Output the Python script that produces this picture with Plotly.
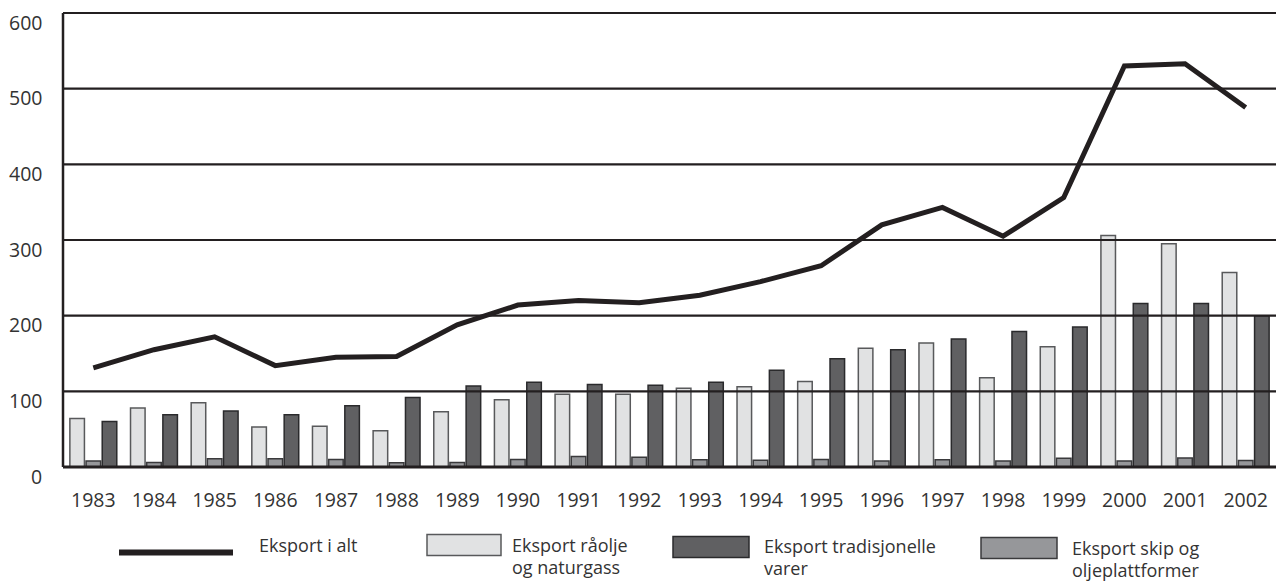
import plotly.graph_objects as go

years = [str(y) for y in range(1983, 2003)]
eksport_i_alt = [131, 155, 172, 134, 145, 146, 188, 214, 220, 217, 227, 245, 266, 320, 343, 305, 356, 530, 533, 475]
raolje_naturgass = [64, 78, 85, 53, 54, 48, 73, 89, 96, 96, 104, 106, 113, 157, 164, 118, 159, 306, 295, 257]
skip_plattformer = [8, 6, 11, 11, 10, 5.5, 6, 10, 14, 13, 9.5, 9, 10, 8, 9.5, 8, 11.5, 8, 12, 8.5]
tradisjonelle = [60, 69, 74, 69, 81, 92, 107, 112, 109, 108, 112, 128, 143, 155, 169, 179, 185, 216, 216, 200]
ytick_vals = [0, 100, 200, 300, 400, 500, 600]
ytick_text = ["0", "100", "200", "300", "400", "500", "600"]
YMAX = 600

W, H = 1276, 584
L, R, T, B = 63, 0, 13, 116.5
PW, PH = W - L - R, H - T - B
FONT = "Open Sans"
TXT = "#333333"
INK = "#231f20"

def px(x):
    return (x - L) / PW

def py(y):
    return (H - B - y) / PH

fig = go.Figure()
fig.add_trace(go.Bar(x=years, y=raolje_naturgass, name="Eksport råolje og naturgass",
                     marker=dict(color="#e1e2e3", line=dict(color="#58595b", width=1.5))))
fig.add_trace(go.Bar(x=years, y=skip_plattformer, name="Eksport skip og oljeplattformer",
                     marker=dict(color="#96979a", line=dict(color="#3a3a3c", width=1.5))))
fig.add_trace(go.Bar(x=years, y=tradisjonelle, name="Eksport tradisjonelle varer",
                     marker=dict(color="#606062", line=dict(color="#2a2a2c", width=1.5))))
fig.add_trace(go.Scatter(x=years, y=eksport_i_alt, mode="lines", name="Eksport i alt",
                         line=dict(color=INK, width=5)))

shapes = []
for v in ytick_vals:
    shapes.append(dict(type="line", xref="paper", yref="paper", x0=0, x1=1, y0=v / YMAX, y1=v / YMAX,
                       line=dict(color=INK, width=3 if v == 0 else 2.2), layer="above"))
shapes.append(dict(type="line", xref="paper", yref="paper", x0=0, x1=0, y0=0, y1=1,
                   line=dict(color=INK, width=2.5), layer="above"))

annotations = []
for v, t in zip(ytick_vals, ytick_text):
    annotations.append(dict(text=t, xref="paper", yref="y", x=0, y=v, xanchor="right",
                            yanchor="middle", xshift=-19, yshift=-9, showarrow=False,
                            font=dict(family=FONT, size=19.5, color=TXT)))

# legend (drawn manually)
shapes.append(dict(type="line", xref="paper", yref="paper", x0=px(119), x1=px(233),
                   y0=py(553), y1=py(553), line=dict(color=INK, width=6)))
annotations.append(dict(text="Eksport i alt", xref="paper", yref="paper", x=px(257), y=py(546),
                        xanchor="left", yanchor="middle", showarrow=False,
                        font=dict(family=FONT, size=18, color=TXT)))
legend_boxes = [
    (427, 501, 535, "#e1e2e3", "#58595b", ["Eksport råolje", "og naturgass"], 510, 546),
    (673, 749, 537, "#606062", "#2a2a2c", ["Eksport tradisjonelle", "varer"], 762, 547),
    (981, 1057, 538, "#96979a", "#3a3a3c", ["Eksport skip og", "oljeplattformer"], 1070, 549),
]
for x0, x1, y0, fc, lc, lines, tx, ty in legend_boxes:
    shapes.append(dict(type="rect", xref="paper", yref="paper", x0=px(x0), x1=px(x1),
                       y0=py(y0), y1=py(y0 + 21), fillcolor=fc, line=dict(color=lc, width=1.5)))
    for i, ln in enumerate(lines):
        annotations.append(dict(text=ln, xref="paper", yref="paper", x=px(tx), y=py(ty + 22 * i),
                                xanchor="left", yanchor="middle", showarrow=False,
                                font=dict(family=FONT, size=18, color=TXT)))

fig.update_layout(
    width=W, height=H,
    margin=dict(l=L, r=R, t=T, b=B),
    plot_bgcolor="white", paper_bgcolor="white",
    barmode="group", bargap=0.2, bargroupgap=0.1,
    showlegend=False,
    shapes=shapes, annotations=annotations,
    font=dict(family=FONT, size=18, color=TXT),
)
fig.update_xaxes(type="category", showgrid=False, showline=False, zeroline=False,
                 ticks="", tickfont=dict(family=FONT, size=19.5, color=TXT), ticklabelstandoff=19)
fig.update_yaxes(range=[0, YMAX], showgrid=False, zeroline=False, showline=False,
                 showticklabels=False, ticks="")

fig.write_html("out.html", config={"displayModeBar": False},
               post_script="document.body.style.margin='0px';document.body.style.overflow='hidden';")
